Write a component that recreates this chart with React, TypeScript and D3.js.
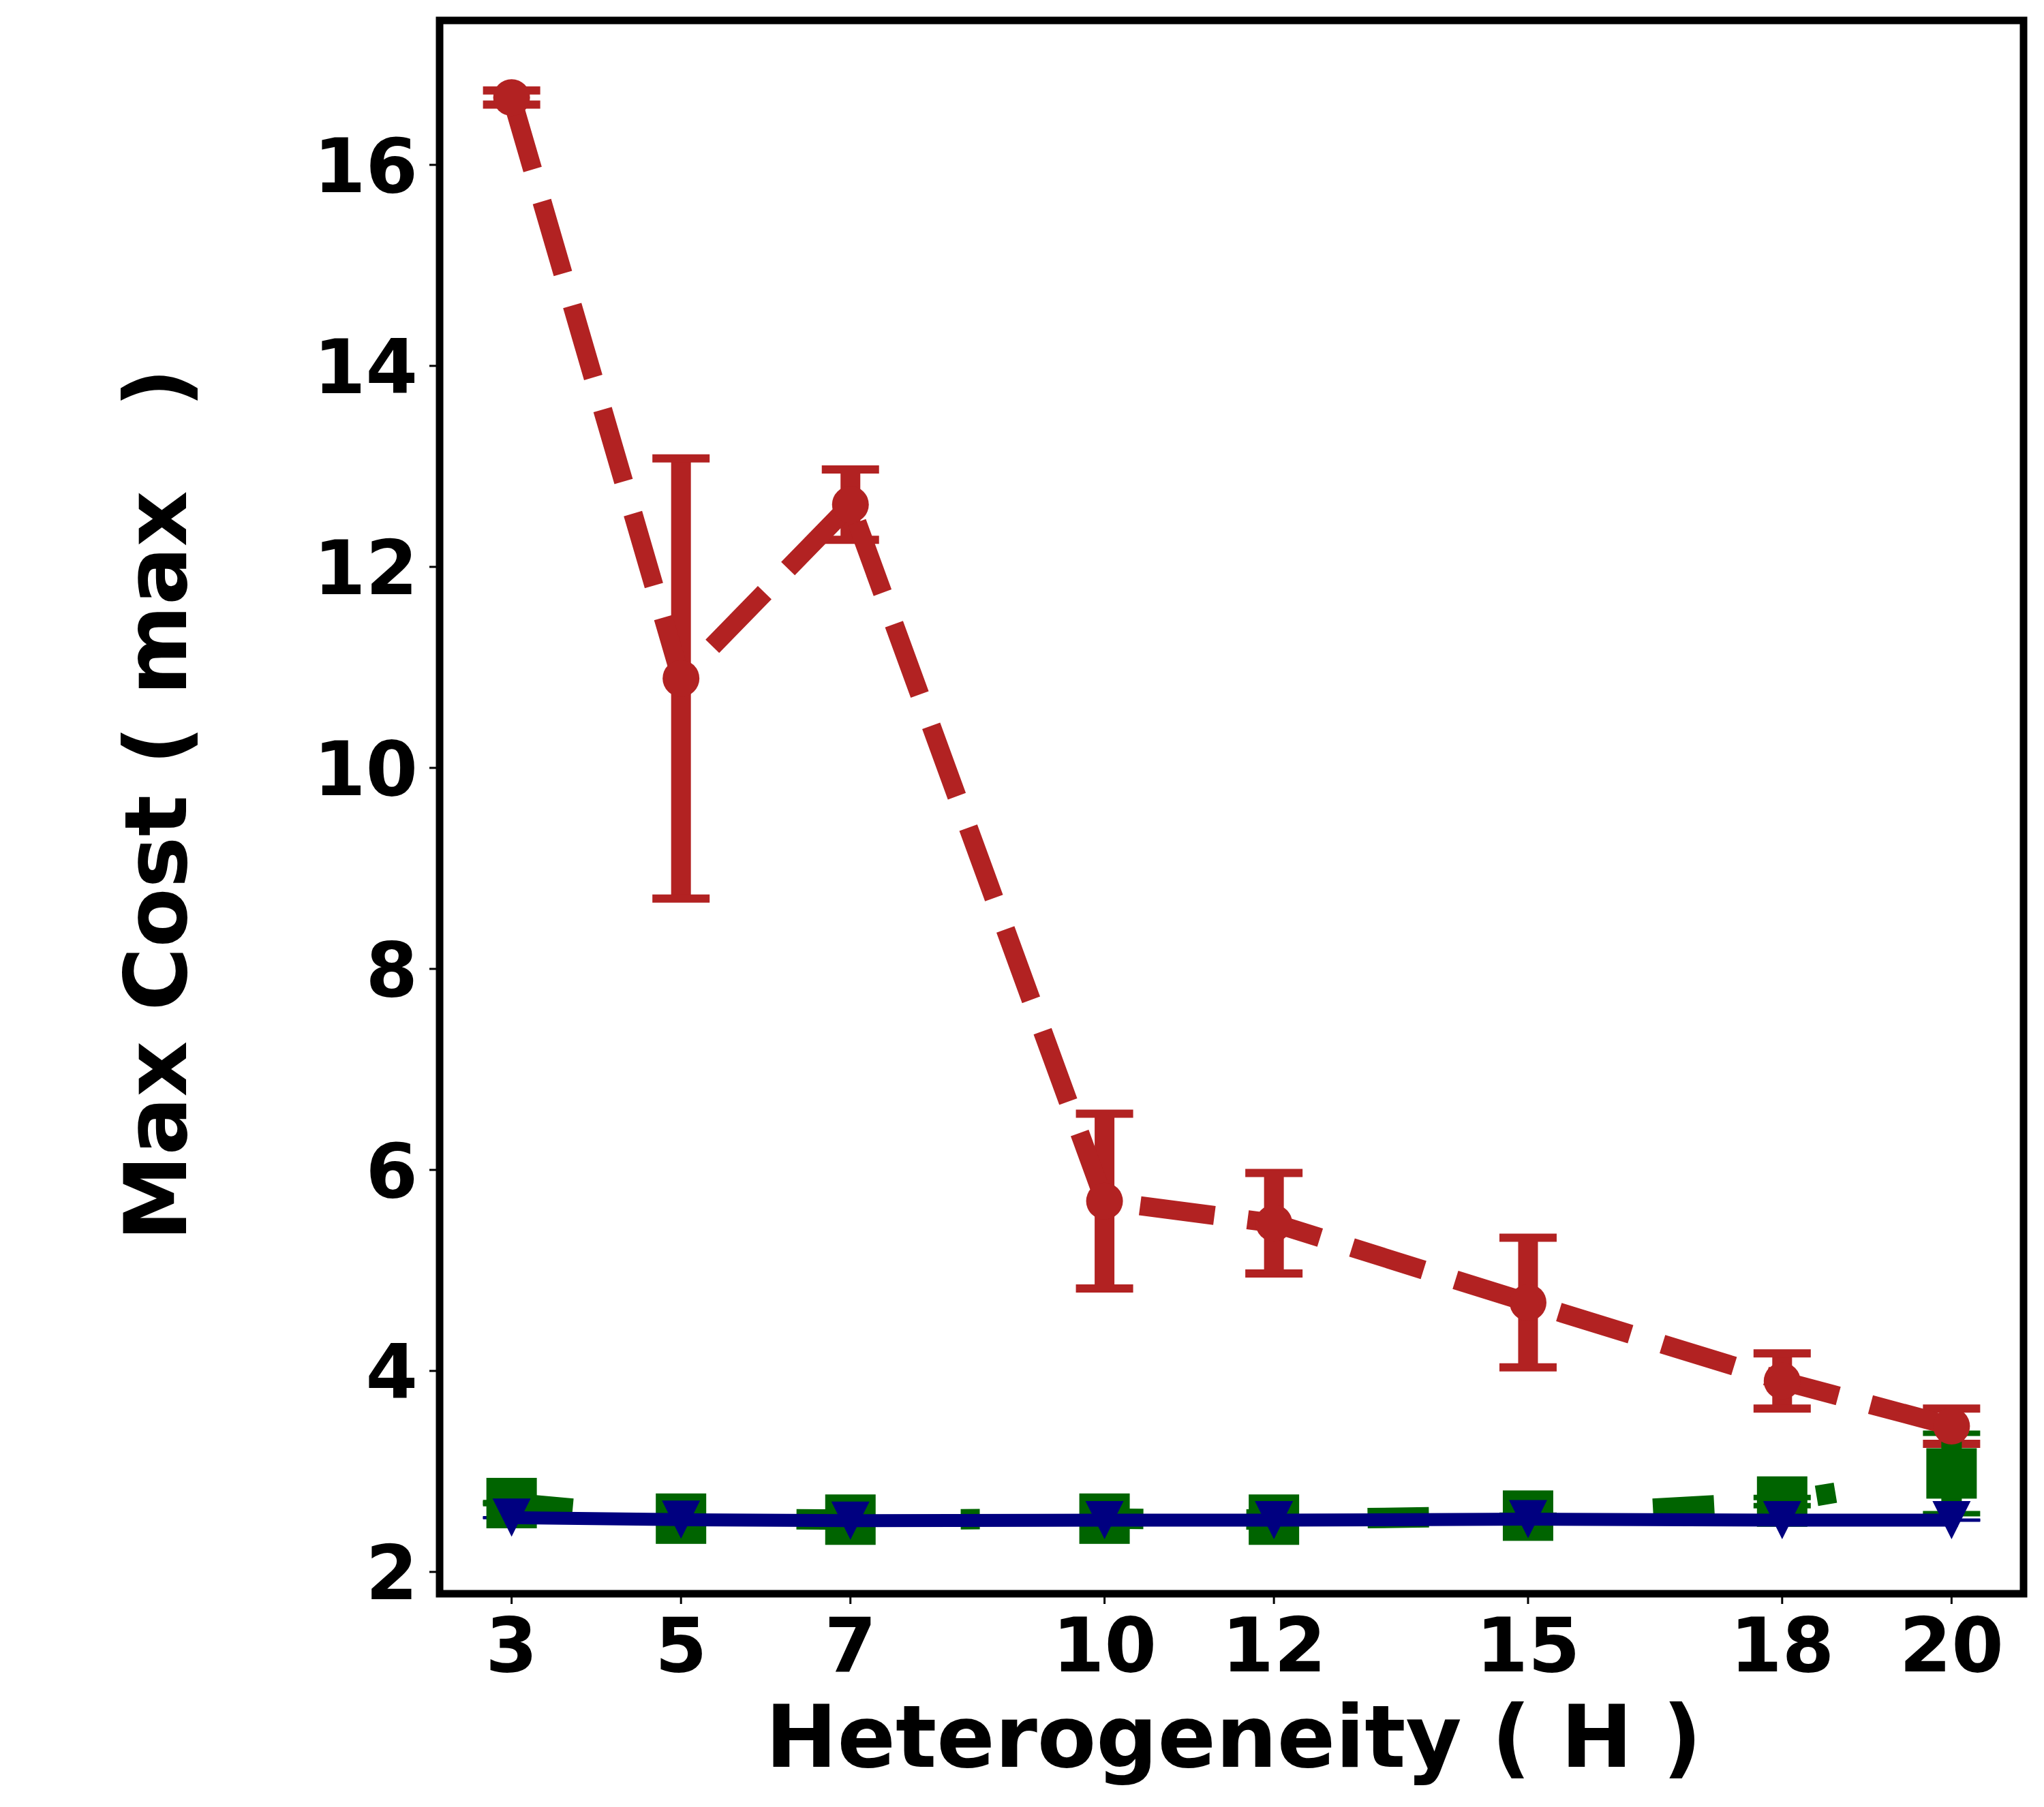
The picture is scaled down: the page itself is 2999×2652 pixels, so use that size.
import * as React from "react";
import * as d3 from "d3";

// values
const hValues = [3, 5, 7, 10, 12, 15, 18, 20];
const redMean = [16.67, 10.89, 12.62, 5.69, 5.47, 4.68, 3.9, 3.45];
const redErr = [0.07, 2.19, 0.35, 0.87, 0.5, 0.645, 0.275, 0.175];
const greenMean = [2.685, 2.53, 2.52, 2.53, 2.52, 2.56, 2.7, 2.98];
const greenErr = [0.005, 0.005, 0.005, 0.005, 0.005, 0.005, 0.04, 0.4];
const blueMean = [2.54, 2.52, 2.51, 2.515, 2.515, 2.525, 2.515, 2.515];
const blueErr = [0.003, 0.003, 0.003, 0.003, 0.003, 0.003, 0.003, 0.003];
const yTicks = [2, 4, 6, 8, 10, 12, 14, 16];

const xLabel = "Heterogeneity ( H )";

const W = 2999;
const H = 2652;
const plot = { left: 645, right: 2969, top: 30, bottom: 2339 };
const font = "'DejaVu Sans', sans-serif";

const xScale = d3.scaleLinear().domain([2.15, 20.85]).range([plot.left, plot.right]);
const yScale = d3.scaleLinear().domain([1.783, 17.437]).range([plot.bottom, plot.top]);

type Marker = "circle" | "square" | "triangle";

interface Series {
  mean: number[];
  err: number[];
  color: string;
  lw: number;
  dash: string | null;
  marker: Marker;
  elw: number;
  capThick: number;
}

const series: Series[] = [
  { mean: redMean, err: redErr, color: "#b22222", lw: 28, dash: "110,49", marker: "circle", elw: 29, capThick: 12 },
  { mean: greenMean, err: greenErr, color: "#006400", lw: 30, dash: "90,151,28,150", marker: "square", elw: 30, capThick: 8 },
  { mean: blueMean, err: blueErr, color: "#000080", lw: 19, dash: null, marker: "triangle", elw: 19, capThick: 4 },
];

const capHalf = 42;

const lineGen = d3
  .line<number>()
  .x((_, i) => xScale(hValues[i]))
  .y((d) => yScale(d));

function drawMarker(kind: Marker, cx: number, cy: number, color: string, key: string) {
  if (kind === "circle") return <circle key={key} cx={cx} cy={cy} r={27} fill={color} />;
  if (kind === "square")
    return <rect key={key} x={cx - 37} y={cy - 37} width={74} height={74} fill={color} />;
  const s = 28;
  return (
    <polygon
      key={key}
      points={`${cx - s},${cy - s} ${cx + s},${cy - s} ${cx},${cy + s}`}
      fill={color}
    />
  );
}

const App: React.FC = () => {
  return (
    <svg
      width={W}
      height={H}
      style={{ position: "absolute", left: 0, top: 0, background: "#fff" }}
      fontFamily={font}
      fontWeight="bold"
    >
      <rect x={0} y={0} width={W} height={H} fill="#fff" />

      {/* error bars sit below all data lines, like matplotlib's zorder */}
      {series.map((s, si) => (
        <g key={`err${si}`} stroke={s.color}>
          {s.mean.map((m, i) => {
            const x = xScale(hValues[i]);
            const y0 = yScale(m - s.err[i]);
            const y1 = yScale(m + s.err[i]);
            return (
              <g key={i}>
                <line x1={x} x2={x} y1={y0} y2={y1} strokeWidth={s.elw} />
                <line x1={x - capHalf} x2={x + capHalf} y1={y0} y2={y0} strokeWidth={s.capThick} />
                <line x1={x - capHalf} x2={x + capHalf} y1={y1} y2={y1} strokeWidth={s.capThick} />
              </g>
            );
          })}
        </g>
      ))}

      {series.map((s, si) => (
        <g key={`line${si}`}>
          <path
            d={lineGen(s.mean) || ""}
            fill="none"
            stroke={s.color}
            strokeWidth={s.lw}
            strokeDasharray={s.dash || undefined}
            strokeLinecap={s.dash ? "butt" : "square"}
            strokeLinejoin="round"
          />
          {s.mean.map((m, i) => drawMarker(s.marker, xScale(hValues[i]), yScale(m), s.color, `m${i}`))}
        </g>
      ))}

      {/* frame */}
      <rect
        x={plot.left}
        y={plot.top}
        width={plot.right - plot.left}
        height={plot.bottom - plot.top}
        fill="none"
        stroke="#000"
        strokeWidth={11}
      />

      {/* x axis */}
      {hValues.map((v) => (
        <g key={`xt${v}`}>
          <line x1={xScale(v)} x2={xScale(v)} y1={plot.bottom} y2={plot.bottom + 15} stroke="#000" strokeWidth={3} />
          <text x={xScale(v)} y={2453} fontSize={110} textAnchor="middle">
            {v}
          </text>
        </g>
      ))}

      {/* y axis */}
      {yTicks.map((v) => (
        <g key={`yt${v}`}>
          <line x1={plot.left - 15} x2={plot.left} y1={yScale(v)} y2={yScale(v)} stroke="#000" strokeWidth={3} />
          <text x={613} y={yScale(v) + 40} fontSize={110} textAnchor="end">
            {v}
          </text>
        </g>
      ))}

      <text x={1810} y={2593} fontSize={126} textAnchor="middle">
        {xLabel}
      </text>
      <text transform="translate(273,1181) rotate(-90)" fontSize={127} textAnchor="middle">
        Max Cost ( max{" "}
        <tspan dx={78}>)</tspan>
      </text>
    </svg>
  );
};

export default App;
